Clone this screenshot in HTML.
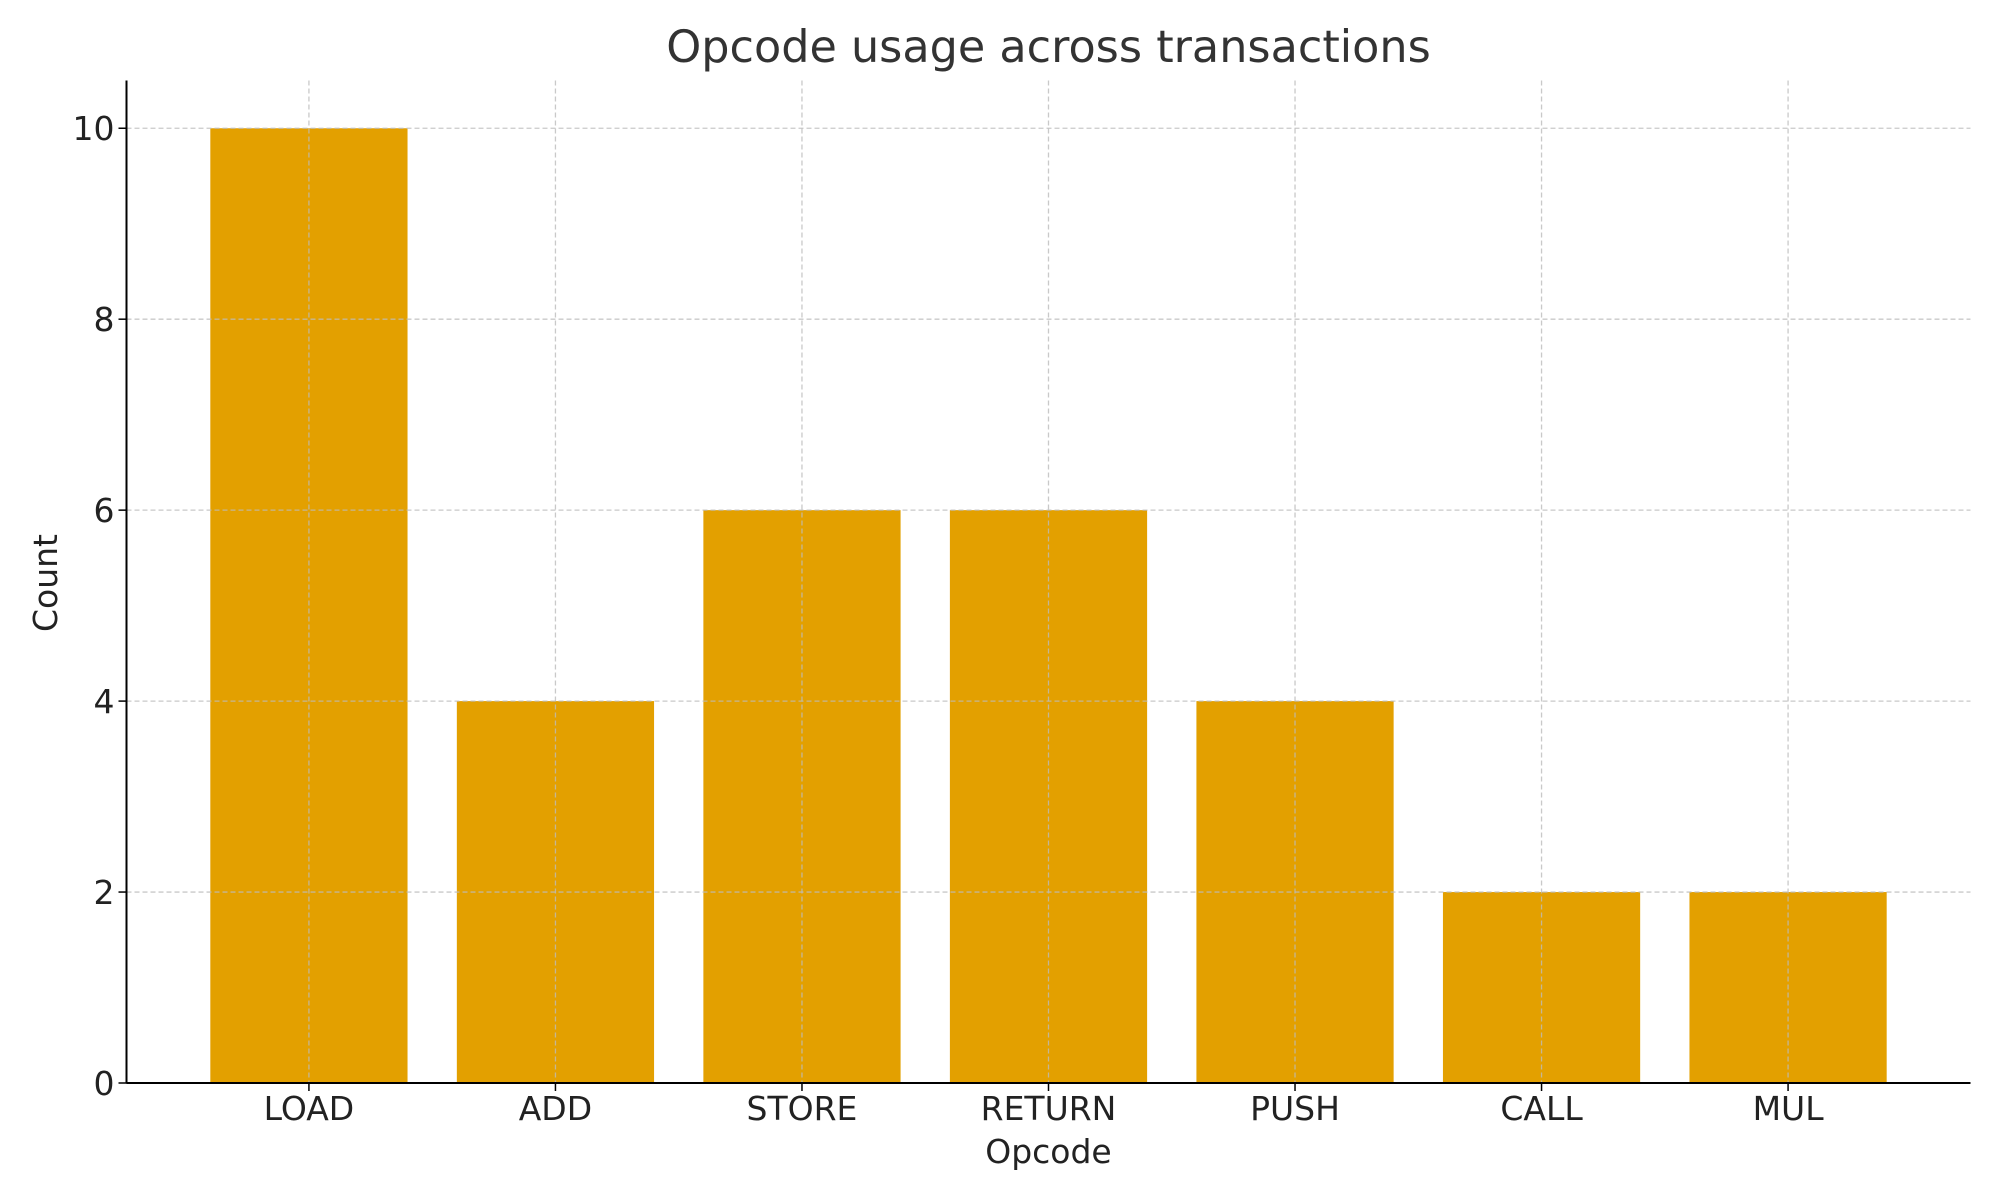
<!DOCTYPE html>
<html><head><meta charset="utf-8"><style>
html,body{margin:0;padding:0;background:#fff;}
svg{display:block;font-family:"DejaVu Sans","Liberation Sans",sans-serif;}
</style></head><body>
<svg id="chart" width="2000" height="1200" viewBox="0 0 2000 1200"></svg>
<script>
const categories = ["LOAD","ADD","STORE","RETURN","PUSH","CALL","MUL"];
const counts = [10,4,6,6,4,2,2];
const yTicks = [0,2,4,6,8,10];

const L=126.5, R=1970.5, T=80.5, B=1083;
const yMax=10.5;
const xMin=-0.74, xMax=6.74;
function xCenter(i){return L+(i-xMin)/(xMax-xMin)*(R-L);}
const band=(R-L)/(xMax-xMin);
function yPos(v){return B-(v/yMax)*(B-T);}
const svg=document.getElementById('chart');
const NS='http://www.w3.org/2000/svg';
function mk(tag,attrs,text){const e=document.createElementNS(NS,tag);for(const k in attrs)e.setAttribute(k,attrs[k]);if(text!==undefined)e.textContent=text;svg.appendChild(e);return e;}

// bars
categories.forEach((c,i)=>{
  const w=band*0.8;
  const b=mk('rect',{x:xCenter(i)-w/2,y:yPos(counts[i]),width:w,height:B-yPos(counts[i]),fill:'#e3a000'});
  
  
});
// grid
yTicks.forEach(v=>{
  const g=mk('line',{x1:L,x2:R,y1:yPos(v),y2:yPos(v),stroke:'#bbbbbb','stroke-width':1.3,'stroke-dasharray':'5,3','stroke-opacity':0.8});
  
  
});
categories.forEach((c,i)=>{
  const g=mk('line',{x1:xCenter(i),x2:xCenter(i),y1:T,y2:B,stroke:'#bbbbbb','stroke-width':1.3,'stroke-dasharray':'5,3','stroke-opacity':0.8});
  
  
});
// axes
const ax1=mk('line',{x1:L,x2:L,y1:T,y2:B,stroke:'#000','stroke-width':2});


const ax2=mk('line',{x1:L,x2:R,y1:B,y2:B,stroke:'#000','stroke-width':2});


// y ticks
yTicks.forEach(v=>{
  const t=mk('line',{x1:L-8,x2:L,y1:yPos(v),y2:yPos(v),stroke:'#000','stroke-width':1.5});
  
  
  const l=mk('text',{x:L-12,y:yPos(v)+12,'text-anchor':'end','font-size':33,fill:'#222'},String(v));
  
  
});
categories.forEach((c,i)=>{
  const t=mk('line',{x1:xCenter(i),x2:xCenter(i),y1:B,y2:B+8,stroke:'#000','stroke-width':1.5});
  
  
  const l=mk('text',{x:xCenter(i),y:B+37,'text-anchor':'middle','font-size':33,fill:'#222'},c);
  
  
});
const xt=mk('text',{x:(L+R)/2,y:1163,'text-anchor':'middle','font-size':33,fill:'#222'},'Opcode');


const yt=mk('text',{x:0,y:0,'text-anchor':'middle','font-size':33,fill:'#222',transform:'translate(57,583) rotate(-90)'},'Count');


const ti=mk('text',{x:(L+R)/2,y:62,'text-anchor':'middle','font-size':44.5,fill:'#333'},'Opcode usage across transactions');


</script>
</body></html>
